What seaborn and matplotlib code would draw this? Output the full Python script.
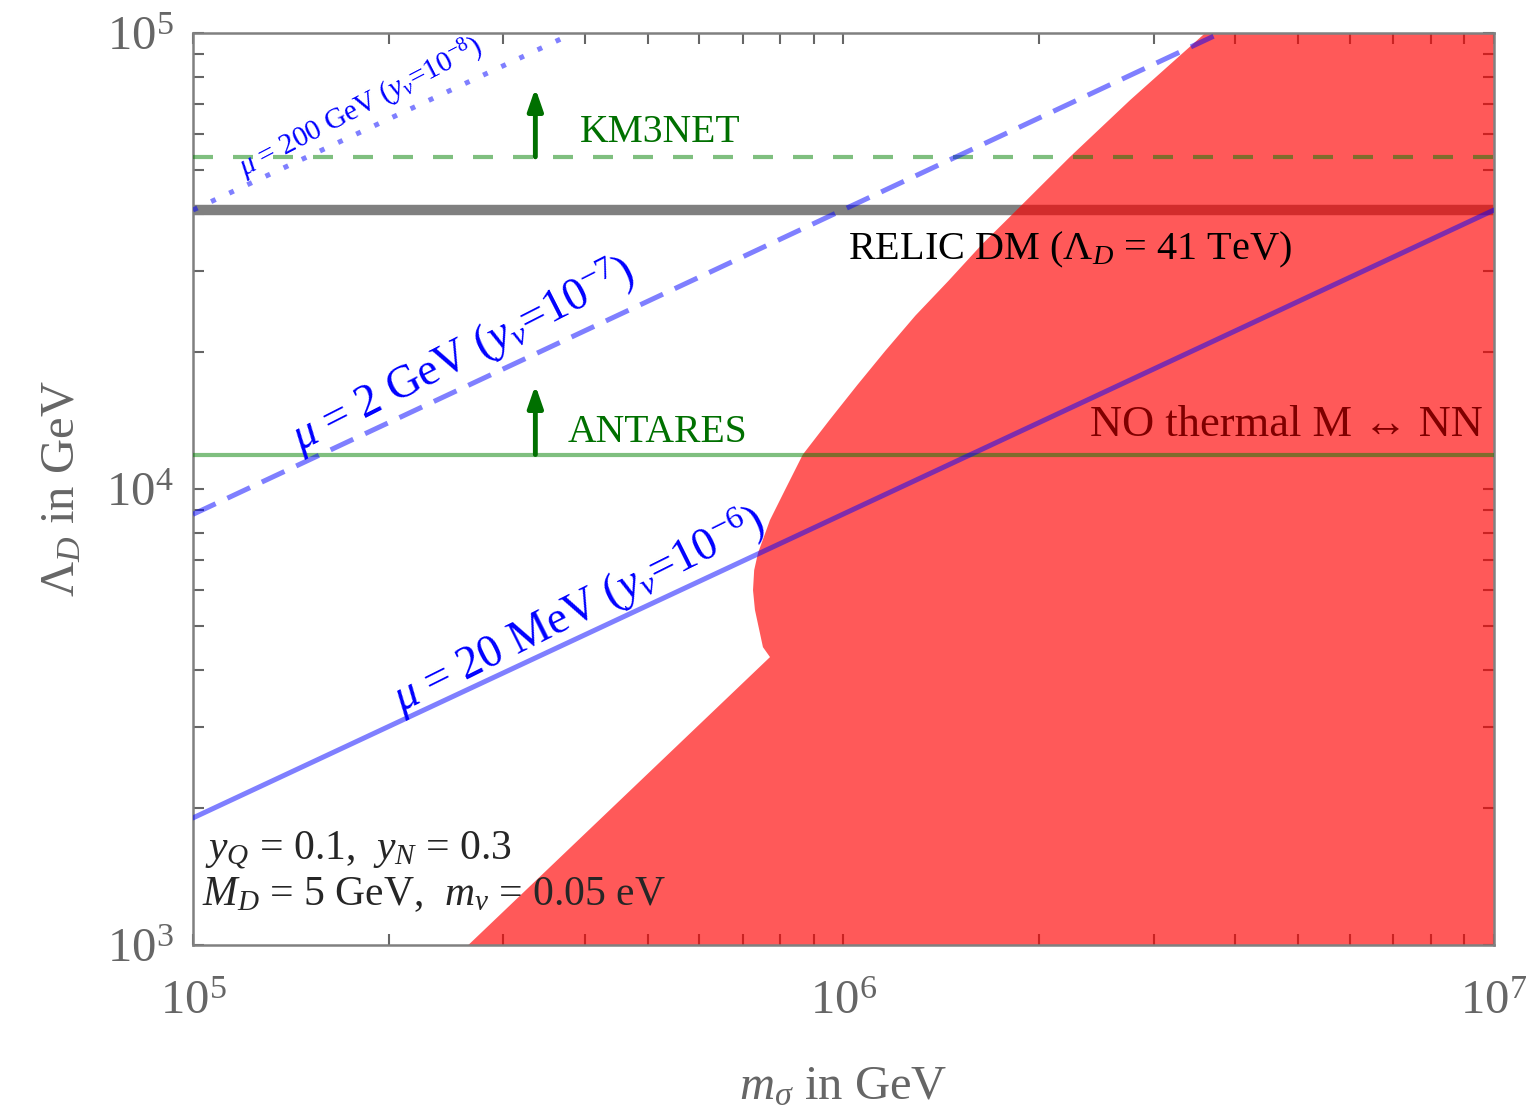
import numpy as np
import pandas as pd
import seaborn as sns
import matplotlib.pyplot as plt

# values (GeV)
region_m = [2.65e5, 7.71e5, 7.52e5, 7.31e5, 7.26e5, 7.29e5, 7.39e5, 7.71e5, 8.13e5,
            8.66e5, 9.53e5, 1.05e6, 1.16e6, 1.29e6, 1.45e6, 1.63e6, 1.84e6, 2.23e6, 2.76e6, 3.6e6]
region_lam = [1000, 4280, 4500, 5430, 6000, 6640, 7240, 8550, 9950,
              11900, 14200, 16900, 20100, 24000, 28600, 34300, 40700, 53500, 71300, 1e5]

mu20mev_m = [1e5, 1e7]
mu20mev_lam = [1900, 40900]
mu2gev_m = [1e5, 3.8e6]
mu2gev_lam = [8800, 1e5]
mu200gev_m = [1e5, 3.85e5]
mu200gev_lam = [40900, 1e5]

relic_lam = 41000
km3net_lam = 53500
antares_lam = 11900
arrow_m = 3.36e5
km3net_arrow = [53500, 75700]
antares_arrow = [11900, 16900]

sns.set_style("ticks")
plt.rcParams['font.family'] = ['Liberation Serif', 'DejaVu Serif']
plt.rcParams['mathtext.fontset'] = 'custom'
plt.rcParams['mathtext.rm'] = 'Liberation Serif'
plt.rcParams['mathtext.it'] = 'Liberation Serif:italic'
plt.rcParams['mathtext.bf'] = 'Liberation Serif:bold'

fig = plt.figure(figsize=(15.34, 11.13), dpi=100)
ax = fig.add_axes([0.1258, 0.1509, 0.8481, 0.8195])
ax.set_xscale('log')
ax.set_yscale('log')
ax.set_xlim(1e5, 1e7)
ax.set_ylim(1e3, 1e5)

# relic line sits under the shaded region
ax.axhline(relic_lam, color='0.5', lw=7.5, zorder=1)

# excluded region
ax.fill(region_m + [1e7, 1e7], region_lam + [1e5, 1e3], color='red', alpha=0.65, lw=0, zorder=2)

# experimental reach
ax.axhline(km3net_lam, color='green', alpha=0.5, lw=3, dashes=(4.8, 4.8), zorder=3)
ax.axhline(antares_lam, color='green', alpha=0.5, lw=3, zorder=3)
for lo_hi in (km3net_arrow, antares_arrow):
    ax.annotate('', xy=(arrow_m, lo_hi[1]), xytext=(arrow_m, lo_hi[0]),
                arrowprops=dict(arrowstyle='-|>,head_length=1.3,head_width=0.45',
                                color='#007000', lw=3.5, shrinkA=0, shrinkB=0), zorder=4)

# mu lines
sns.lineplot(x=mu20mev_m, y=mu20mev_lam, ax=ax, color='blue', alpha=0.5, lw=3.6, zorder=3)
sns.lineplot(x=mu2gev_m, y=mu2gev_lam, ax=ax, color='blue', alpha=0.5, lw=3.6, zorder=3)
ax.lines[-1].set_dashes((5, 2.6))
sns.lineplot(x=mu200gev_m, y=mu200gev_lam, ax=ax, color='blue', alpha=0.5, lw=3.6, zorder=3)
ax.lines[-1].set_dashes((1, 3))

# labels
ax.text(3.94e5, 60400, 'KM3NET', color='#007000', fontsize=28.5, va='center', zorder=5)
ax.text(3.77e5, 13300, 'ANTARES', color='#007000', fontsize=28.5, va='center', zorder=5)
ax.text(1.016e6, 33400, r'RELIC DM ($\Lambda_D$ = 41 TeV)', color='black', fontsize=29,
        va='center', zorder=5)
ax.text(9.6e6, 13800, 'NO thermal M \u2194 NN', color='#800000', fontsize=32,
        va='center', ha='right', zorder=5)
ax.text(3.91e5, 5430, r'$\mu$ = 20 MeV ($y_\nu$=10$^{-6}$)', color='blue', fontsize=33,
        rotation=26.5, ha='center', va='center', rotation_mode='anchor', zorder=5)
ax.text(2.6e5, 19700, r'$\mu$ = 2 GeV ($y_\nu$=10$^{-7}$)', color='blue', fontsize=33,
        rotation=27, ha='center', va='center', rotation_mode='anchor', zorder=5)
ax.text(1.81e5, 68500, r'$\mu$ = 200 GeV ($y_\nu$=10$^{-8}$)', color='blue', fontsize=21,
        rotation=27.5, ha='center', va='center', rotation_mode='anchor', zorder=5)
ax.text(0.009, 0.104, r'$y_Q$ = 0.1,  $y_N$ = 0.3', transform=ax.transAxes,
        fontsize=30, va='center', zorder=5)
ax.text(0.007, 0.055, r'$M_D$ = 5 GeV,  $m_\nu$ = 0.05 eV', transform=ax.transAxes,
        fontsize=30, va='center', zorder=5)

# axes styling
for s in ax.spines.values():
    s.set_color('0.5')
    s.set_linewidth(1.8)
ax.tick_params(which='both', direction='in', top=True, right=True, color='0.4', width=1.5)
ax.tick_params(which='major', length=8, labelsize=35, labelcolor='0.4')
ax.tick_params(which='minor', length=8)
ax.tick_params(axis='x', which='major', pad=25)
ax.tick_params(axis='y', which='major', pad=14)
ax.set_xlabel(r'$m_\sigma$ in GeV', fontsize=35, color='0.4', labelpad=30)
ax.set_ylabel(r'$\Lambda_D$ in GeV', fontsize=35, color='0.4', labelpad=16)

fig.savefig('out.png', dpi=100)
